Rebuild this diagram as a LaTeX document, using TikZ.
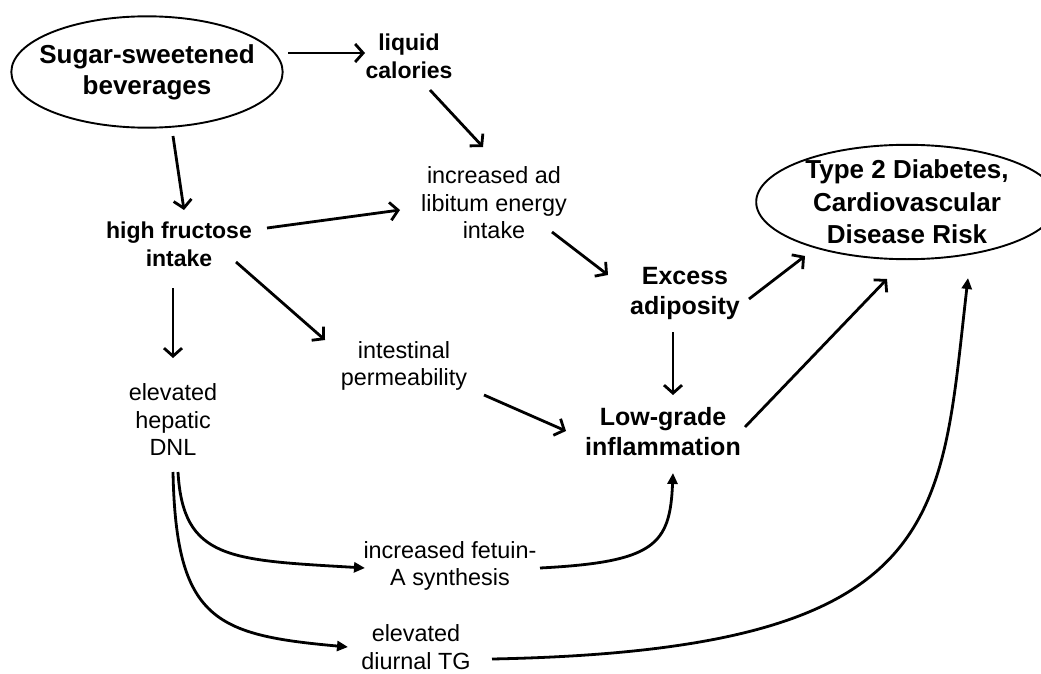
\documentclass[tikz,border=0pt]{standalone}
\usepackage{fontspec}
\setmainfont{Liberation Sans}
\usetikzlibrary{arrows.meta,shapes.geometric}

\begin{document}
\begin{tikzpicture}[x=1pt, y=-1pt,
  txt/.style={align=center, inner sep=0pt, font=\fontsize{23.4}{27.5}\selectfont},
  bld/.style={align=center, inner sep=0pt, font=\fontsize{23}{28}\selectfont\bfseries},
  big/.style={align=center, inner sep=0pt, font=\fontsize{25}{30}\selectfont\bfseries},
  oval/.style={draw, ellipse, line width=1.9pt, align=center, font=\fontsize{26}{31}\selectfont\bfseries},
  link/.style={line width=2.8pt, -{Straight Barb[length=8pt,width=18pt]}},
  curl/.style={line width=2.8pt, -{Triangle[length=11pt,width=10pt]}}]
\useasboundingbox (0,0) rectangle (1041,674);

\node[oval, inner xsep=-11.7pt, inner ysep=11.7pt] (sug) at (147,72) {Sugar-sweetened\\beverages};
\node[bld] (liq) at (409,56) {liquid\\calories};
\node[txt] (inc) at (494,203) {increased ad\\libitum energy\\intake};
\node[bld] (hfi) at (179,244) {high fructose\\intake};
\node[big] (exc) at (685,293) {Excess\\adiposity};
\node[big] (low) at (663,432) {Low-grade\\inflammation};
\node[oval, inner xsep=5pt, inner ysep=-1.6pt, font=\fontsize{26}{32.5}\selectfont\bfseries] (t2d) at (907,202) {Type 2 Diabetes,\\Cardiovascular\\Disease Risk};
\node[txt] (int) at (404,366) {intestinal\\permeability};
\node[txt] (dnl) at (173,420) {elevated\\hepatic\\DNL};
\node[txt] (fet) at (450,566) {increased fetuin-\\A synthesis};
\node[txt] (dtg) at (416,647) {elevated\\diurnal TG};

% straight links
\draw[link] ([shift={(141,-19)}]sug.center) -- ([shift={(-44,-3)}]liq.center);
\draw[link] ([shift={(26,64)}]sug.center) -- ([shift={(5,-34)}]hfi.center);
\draw[link] ([shift={(21,34)}]liq.center) -- ([shift={(-11,-56)}]inc.center);
\draw[link] ([shift={(88,-16)}]hfi.center) -- ([shift={(-94,7)}]inc.center);
\draw[link] ([shift={(58,29)}]inc.center) -- ([shift={(-77,-18)}]exc.center);
\draw[link] ([shift={(64,6)}]exc.center) -- ([shift={(-102,54)}]t2d.center);
\draw[link] ([shift={(82,-5)}]low.center) -- ([shift={(-20,77)}]t2d.center);
\draw[link] ([shift={(57,18)}]hfi.center) -- ([shift={(-79,-26)}]int.center);
\draw[link] ([shift={(-6,44)}]hfi.center) -- ([shift={(0,-62)}]dnl.center);
\draw[link] ([shift={(80,29)}]int.center) -- ([shift={(-97,-1)}]low.center);
\draw[link] ([shift={(-12,39)}]exc.center) -- ([shift={(10,-37)}]low.center);

% curved links
\draw[curl] ([shift={(5,52)}]dnl.center) .. controls +(5,88) and +(-135,-8) .. ([shift={(-85,2)}]fet.center);
\draw[curl] ([shift={(0,52)}]dnl.center) .. controls +(3,148) and +(-133,-12) .. ([shift={(-68,0)}]dtg.center);
\draw[curl] ([shift={(90,2)}]fet.center) .. controls +(115,-6) and +(-3,72) .. ([shift={(10,41)}]low.center);
\draw[curl] ([shift={(76,12)}]dtg.center) .. controls +(458,-9) and +(-28,242) .. ([shift={(61,76)}]t2d.center);
\end{tikzpicture}
\end{document}
